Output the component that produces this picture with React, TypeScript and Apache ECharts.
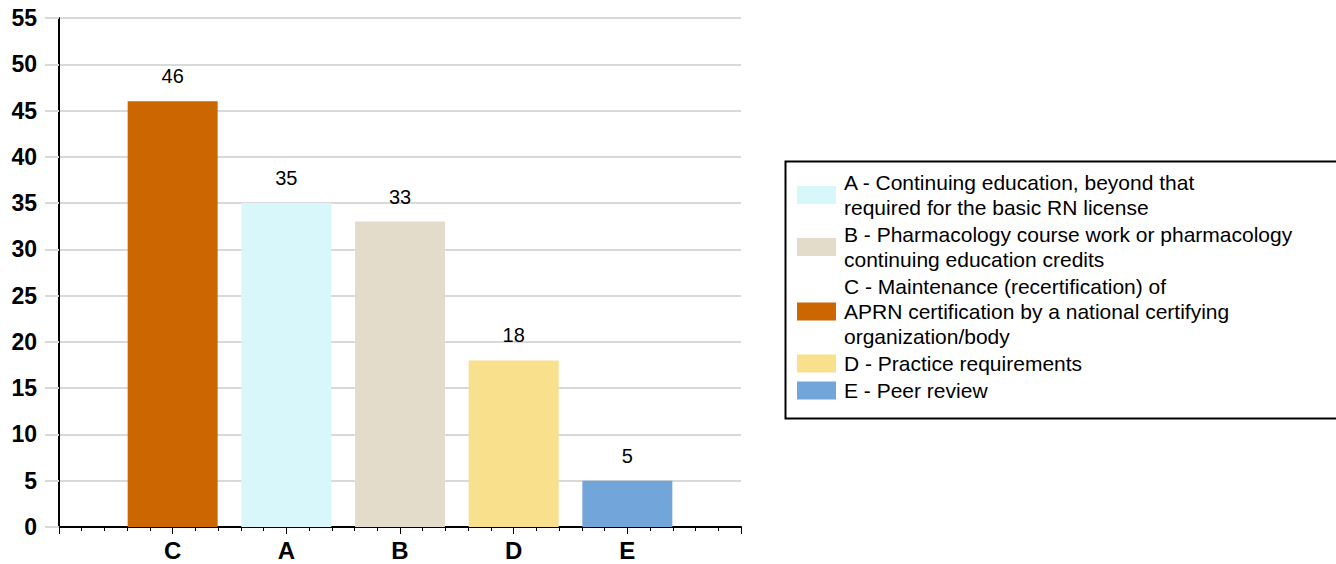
import React, { useEffect, useRef } from "react";
import * as echarts from "echarts";

const categories = ["C", "A", "B", "D", "E"];
const categoryPositions = [1, 2, 3, 4, 5];
const values = [46, 35, 33, 18, 5];
const legendNames = [
  "A - Continuing education, beyond that\nrequired for the basic RN license",
  "B - Pharmacology course work or pharmacology\ncontinuing education credits",
  "C - Maintenance (recertification) of\nAPRN certification by a national certifying\norganization/body",
  "D - Practice requirements",
  "E - Peer review",
];
const legendKeys = ["A", "B", "C", "D", "E"];
const colors = ["#D7F7FB", "#E3DCCB", "#CC6600", "#F9E08C", "#72A6DA"];
const yTicks = { min: 0, max: 55, interval: 5 };

const FONT = "'Liberation Sans', Arial, sans-serif";

export default function App() {
  const ref = useRef<HTMLDivElement>(null);
  useEffect(() => {
    document.body.style.margin = "0";
    const chart = echarts.init(ref.current!, null, { renderer: "svg" });
    const series = legendKeys.map((key, i) => {
      const idx = categories.indexOf(key);
      return {
        type: "bar",
        name: legendNames[i],
        barWidth: 90,
        barGap: "-100%",
        itemStyle: { color: colors[i] },
        label: {
          show: true,
          position: "top",
          distance: 15,
          color: "#000",
          fontSize: 20,
          fontFamily: FONT,
        },
        data: [[categoryPositions[idx], values[idx]]],
      };
    });
    chart.setOption({
      animation: false,
      textStyle: { fontFamily: FONT },
      grid: { left: 59, right: 595, top: 18, bottom: 37, containLabel: false },
      legend: {
        orient: "vertical",
        left: 797,
        top: 170,
        padding: 0,
        itemGap: 2,
        itemWidth: 39,
        itemHeight: 18,
        icon: "rect",
        textStyle: { fontSize: 21, lineHeight: 25, color: "#000", fontFamily: FONT, padding: [0, 0, 0, 3] },
        data: legendNames,
      },
      xAxis: {
        type: "value",
        min: 0,
        max: 6,
        interval: 1,
        axisLine: { show: true, lineStyle: { color: "#000", width: 2 } },
        axisTick: { show: true, length: 7, lineStyle: { color: "#000", width: 1 } },
        minorTick: { show: true, splitNumber: 5, length: 4, lineStyle: { color: "#000", width: 1 } },
        splitLine: { show: false },
        axisLabel: {
          margin: 11,
          color: "#000",
          fontSize: 24,
          fontWeight: "bold",
          fontFamily: FONT,
          formatter: (v: number) => {
            const i = categoryPositions.indexOf(v);
            return i >= 0 ? categories[i] : "";
          },
        },
      },
      yAxis: {
        type: "value",
        min: yTicks.min,
        max: yTicks.max,
        interval: yTicks.interval,
        axisLine: { show: true, lineStyle: { color: "#000", width: 2 } },
        axisTick: { show: true, length: 14, lineStyle: { color: "#d9d9d9", width: 2 } },
        splitLine: { show: true, lineStyle: { color: "#d9d9d9", width: 2 } },
        axisLabel: {
          margin: 22,
          color: "#000",
          fontSize: 23,
          fontWeight: "bold",
          fontFamily: FONT,
        },
      },
      graphic: [
        {
          type: "rect",
          left: 783,
          top: 159,
          shape: { width: 552, height: 257 },
          style: { fill: "none", stroke: "#000", lineWidth: 2 },
          silent: true,
        },
      ],
      series,
    });
    return () => chart.dispose();
  }, []);
  return (
    <div
      ref={ref}
      style={{ position: "absolute", left: 0, top: 0, width: 1336, height: 564, background: "#fff" }}
    />
  );
}
